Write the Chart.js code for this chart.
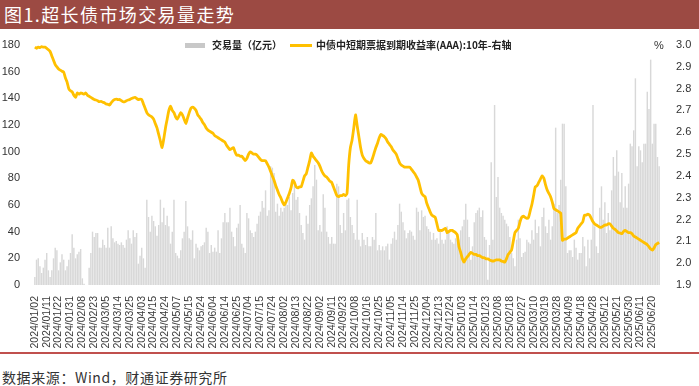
<!DOCTYPE html>
<html>
<head>
<meta charset="utf-8">
<script src="https://cdn.jsdelivr.net/npm/chart.js@4.4.1/dist/chart.umd.min.js"></script>
<style>
  html, body { margin: 0; padding: 0; background: #fff; }
  body { width: 699px; height: 386px; position: relative; overflow: hidden; font-family: "Noto Sans CJK SC", "Liberation Sans", sans-serif; }
  #title { position: absolute; left: 0; top: 0; width: 699px; height: 29px; background: #9C4A43; color: #fff; font-size: 18px; line-height: 29px; padding-left: 4px; box-sizing: border-box; letter-spacing: 1.4px; }
  #chartbox { position: absolute; left: 0; top: 30px; width: 699px; height: 320px; }
  #legend { position: absolute; top: 38px; left: 185px; height: 14px; font-size: 10px; line-height: 14px; color: #222; white-space: nowrap; font-weight: bold; }
  #legend span.sw1 { display: inline-block; width: 20px; height: 5px; background: #c8c8c8; vertical-align: middle; margin-right: 7px; position: relative; top: -1px; }
  #legend span.sw2 { display: inline-block; width: 22px; height: 3px; background: #FFC000; vertical-align: middle; margin-right: 4px; margin-left: 8px; position: relative; top: -1px; }
  #pct { position: absolute; left: 654px; top: 39px; font-size: 11px; color: #333; font-family: "Liberation Sans", sans-serif; }
  #rule { position: absolute; left: 0; top: 352px; width: 699px; height: 1.5px; background: #C0504D; }
  #source { position: absolute; left: 2px; top: 367px; font-size: 14px; color: #333; white-space: nowrap; letter-spacing: 0.6px; }
</style>
</head>
<body>
<div id="title">图1.超长债市场交易量走势</div>
<div id="chartbox"><canvas id="c"></canvas></div>
<div id="legend"><span class="sw1"></span>交易量（亿元）<span class="sw2"></span>中债中短期票据到期收益率(AAA):10年-右轴</div>
<div id="pct">%</div>
<div id="rule"></div>
<div id="source">数据来源：Wind，财通证券研究所</div>
<script>
// x-axis tick labels (every 7th trading day)
const tickLabels = ['2024/01/02','2024/01/11','2024/01/22','2024/01/31','2024/02/08','2024/02/23','2024/03/05','2024/03/14','2024/03/25','2024/04/03','2024/04/15','2024/04/24','2024/05/07','2024/05/15','2024/05/24','2024/06/04','2024/06/14','2024/06/25','2024/07/04','2024/07/15','2024/07/24','2024/08/02','2024/08/13','2024/08/22','2024/09/02','2024/09/11','2024/09/23','2024/10/08','2024/10/16','2024/10/25','2024/11/05','2024/11/14','2024/11/25','2024/12/04','2024/12/13','2024/12/24','2025/01/03','2025/01/14','2025/01/23','2025/02/08','2025/02/18','2025/02/27','2025/03/10','2025/03/19','2025/03/28','2025/04/09','2025/04/18','2025/04/28','2025/05/12','2025/05/21','2025/05/30','2025/06/11','2025/06/20'];

// daily trading volume (亿元)
const volume = [
6,19,20,14,9,13,19,24,11,6,
11,20,28,26,11,17,23,19,11,14,
19,24,38,28,20,23,25,27,5,1,
0,0,13,24,40,36,39,39,28,
28,34,30,28,43,28,44,35,32,33,
31,30,32,30,28,34,41,35,31,41,
36,39,16,22,28,20,13,64,51,40,
52,48,44,37,45,64,47,58,45,52,
44,31,40,64,24,22,20,26,35,
40,63,44,35,34,41,20,31,28,26,
29,30,32,43,40,24,30,25,28,25,
41,24,35,47,54,47,47,58,40,36,
29,43,46,60,31,28,24,54,50,41,
39,36,40,46,52,55,63,58,71,
52,56,89,88,84,55,61,52,58,55,
58,61,60,66,56,69,79,64,66,54,
45,39,34,52,46,60,65,74,90,79,
41,45,40,68,58,40,36,31,36,31,
31,76,74,45,39,54,41,64,65,
51,45,39,34,64,34,29,39,34,30,
36,29,29,36,34,54,26,30,26,29,
26,29,31,19,31,35,40,34,45,61,
55,47,41,35,39,41,40,37,34,
58,55,41,56,51,52,44,42,40,34,
39,34,35,31,40,34,31,34,44,39,
34,32,31,35,34,34,41,44,49,61,
49,36,19,29,47,54,56,58,51,
56,36,34,4,30,92,34,135,66,81,
58,54,52,49,46,44,36,24,20,14,
34,49,35,21,24,25,34,32,31,41,
34,49,39,44,29,51,58,44,39,
49,34,44,61,118,54,60,79,121,121,
74,24,26,26,21,34,28,19,24,24,
36,29,14,34,20,34,135,44,29,24,
58,74,49,62,39,54,41,71,96,82,
101,85,62,84,58,74,58,76,106,104,
116,155,89,104,101,92,106,106,145,132,
169,106,121,121,96,89
];

// 中债中短期票据到期收益率(AAA):10年 (%)
const yieldRate = [
2.99,2.985,2.99,2.988,2.992,2.99,2.99,2.985,2.978,2.97,
2.95,2.93,2.91,2.90,2.89,2.885,2.88,2.876,2.85,2.83,
2.80,2.79,2.785,2.77,2.76,2.78,2.775,2.78,2.778,2.775,
2.78,2.77,2.765,2.76,2.755,2.75,2.748,2.745,2.74,2.742,
2.738,2.735,2.73,2.728,2.725,2.735,2.745,2.75,2.752,2.75,
2.75,2.745,2.74,2.74,2.745,2.748,2.75,2.755,2.758,2.76,
2.755,2.75,2.752,2.75,2.73,2.71,2.69,2.68,2.675,2.67,
2.66,2.64,2.62,2.59,2.56,2.53,2.57,2.62,2.66,2.70,
2.72,2.70,2.69,2.67,2.66,2.675,2.69,2.68,2.66,2.64,
2.665,2.69,2.71,2.715,2.71,2.70,2.68,2.67,2.66,2.645,
2.635,2.62,2.61,2.605,2.60,2.595,2.585,2.58,2.575,2.57,
2.565,2.56,2.555,2.54,2.53,2.52,2.525,2.53,2.51,2.495,
2.495,2.49,2.49,2.48,2.47,2.48,2.50,2.51,2.505,2.50,
2.50,2.495,2.485,2.475,2.47,2.47,2.47,2.455,2.44,2.42,
2.40,2.38,2.355,2.335,2.315,2.30,2.28,2.267,2.28,2.30,
2.32,2.345,2.38,2.37,2.35,2.345,2.35,2.35,2.375,2.40,
2.41,2.44,2.47,2.505,2.49,2.48,2.47,2.46,2.445,2.425,
2.41,2.40,2.395,2.385,2.375,2.37,2.35,2.33,2.31,2.305,
2.31,2.31,2.315,2.31,2.32,2.45,2.53,2.565,2.62,2.68,
2.63,2.58,2.53,2.495,2.48,2.47,2.465,2.46,2.46,2.48,
2.505,2.53,2.55,2.575,2.59,2.585,2.58,2.57,2.555,2.545,
2.535,2.52,2.51,2.50,2.48,2.46,2.45,2.445,2.44,2.44,
2.44,2.44,2.43,2.42,2.41,2.395,2.38,2.35,2.32,2.31,
2.305,2.275,2.255,2.235,2.22,2.215,2.21,2.18,2.15,2.15,
2.15,2.155,2.16,2.14,2.145,2.15,2.15,2.145,2.14,2.13,
2.075,2.05,2.02,2.005,2.02,2.03,2.04,2.05,2.045,2.04,
2.04,2.035,2.035,2.03,2.025,2.025,2.02,2.02,2.015,2.012,
2.01,2.012,2.015,2.015,2.015,2.01,2.008,2.005,2.02,2.04,
2.05,2.06,2.10,2.14,2.15,2.16,2.19,2.21,2.215,2.21,
2.205,2.21,2.24,2.27,2.31,2.35,2.355,2.37,2.385,2.40,
2.39,2.36,2.335,2.32,2.305,2.28,2.25,2.245,2.24,2.235,
2.23,2.105,2.11,2.11,2.115,2.12,2.125,2.13,2.135,2.14,
2.16,2.17,2.18,2.19,2.22,2.22,2.225,2.22,2.205,2.19,
2.18,2.175,2.17,2.165,2.165,2.17,2.175,2.175,2.18,2.18,
2.17,2.16,2.155,2.148,2.14,2.138,2.135,2.145,2.15,2.145,
2.14,2.14,2.135,2.125,2.12,2.115,2.11,2.105,2.10,2.095,
2.09,2.085,2.075,2.065,2.06,2.07,2.085,2.09,2.095
];

const TICK_EVERY = 7;
const categories = volume.map((_, i) => i);

new Chart(document.getElementById('c'), {
  data: {
    labels: categories,
    datasets: [
      {
        type: 'line',
        label: '中债中短期票据到期收益率(AAA):10年-右轴',
        data: yieldRate,
        yAxisID: 'y1',
        borderColor: '#FFC000',
        borderWidth: 2.8,
        pointRadius: 0,
        tension: 0.2,
        order: 0
      },
      {
        type: 'bar',
        label: '交易量（亿元）',
        data: volume,
        yAxisID: 'y',
        backgroundColor: '#d8d8d8',
        barPercentage: 1,
        categoryPercentage: 0.85,
        order: 1
      }
    ]
  },
  options: {
    responsive: true,
    maintainAspectRatio: false,
    animation: false,
    layout: { padding: { top: 15, left: 0, right: 0, bottom: 0 } },
    plugins: { legend: { display: false }, tooltip: { enabled: false } },
    scales: {
      x: {
        type: 'category',
        offset: true,
        grid: { display: false },
        border: { display: false },
        ticks: {
          autoSkip: false,
          minRotation: 90,
          maxRotation: 90,
          padding: 3,
          color: '#3a3a3a',
          font: { family: 'Liberation Sans', size: 10.5 },
          callback: (v, i) => (i % TICK_EVERY === 0 ? tickLabels[i / TICK_EVERY] : null)
        },
        afterFit: s => { s.height = 65; }
      },
      y: {
        position: 'left',
        min: 0, max: 180,
        grid: { display: false },
        border: { display: false },
        ticks: { stepSize: 20, padding: 6, color: '#333', font: { family: 'Liberation Sans', size: 11 } },
        afterFit: s => { s.width = 34; }
      },
      y1: {
        position: 'right',
        min: 1.9, max: 3.0,
        grid: { display: false },
        border: { display: false },
        ticks: { stepSize: 0.1, padding: 8, color: '#333', font: { family: 'Liberation Sans', size: 11 }, callback: v => Number(v).toFixed(1) },
        afterFit: s => { s.width = 39; }
      }
    }
  }
});
</script>
</body>
</html>
